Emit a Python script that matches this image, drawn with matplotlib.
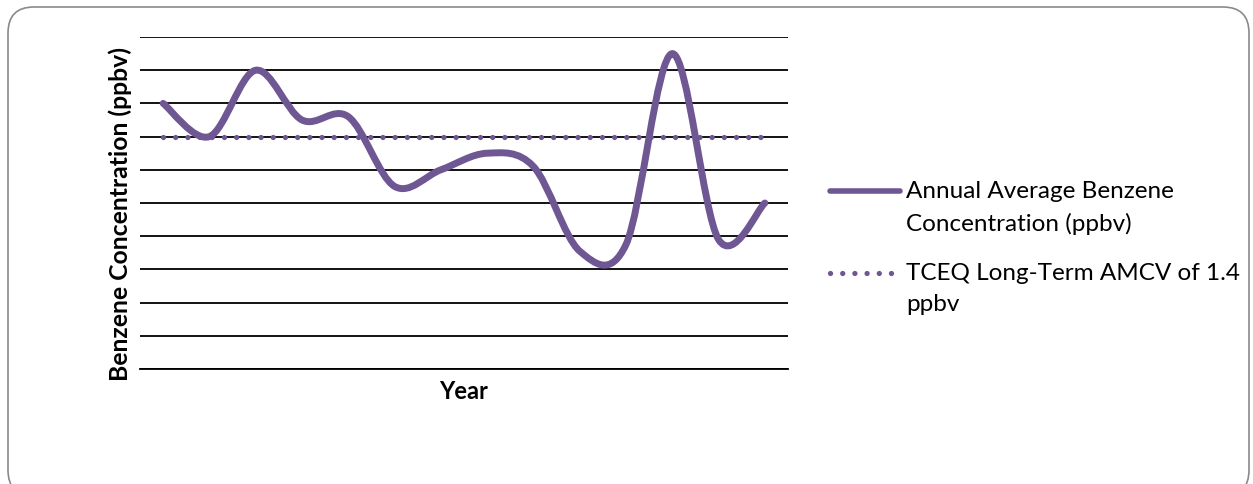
# -*- coding: utf-8 -*-

# %%
import numpy as np
import matplotlib.pyplot as plt
from matplotlib.path import Path
from matplotlib.patches import PathPatch, FancyBboxPatch
from matplotlib.lines import Line2D
from matplotlib.transforms import IdentityTransform


# %% Data ---------------------------------------------------------------------
years = np.arange(14)  # year categories (no labels shown on the axis)
benzene = [1.60, 1.40, 1.80, 1.50, 1.52, 1.10, 1.20, 1.30, 1.22, 0.71, 0.75,
           1.90, 0.78, 1.00]  # annual average benzene, ppbv
amcv = 1.4  # TCEQ long-term AMCV, ppbv

purple = '#6E5793'
plt.rcParams['font.family'] = ['Lato', 'DejaVu Sans']


# %% Smoothed curve (Bezier through the points, like a spreadsheet chart) -----
def smooth_path(x, y):
    p = np.column_stack([x, y]).astype(float)
    ext = np.vstack([p[0], p, p[-1]])
    verts = [p[0]]
    codes = [Path.MOVETO]
    for i in range(len(p) - 1):
        c1 = p[i] + (ext[i + 2] - ext[i]) / 6
        c2 = p[i + 1] - (ext[i + 3] - ext[i + 1]) / 6
        verts += [c1, c2, p[i + 1]]
        codes += [Path.CURVE4] * 3
    return Path(verts, codes)


# %% Figure -------------------------------------------------------------------
fig = plt.figure(figsize=(12.53, 4.84), dpi=100)
ax = fig.add_axes([140/1253, 1 - 369/484, 648/1253, 332/484])

ax.set_xlim(-0.5, 13.5)
ax.set_ylim(0, 2.0)
ax.set_yticks(np.arange(0, 2.01, 0.2))
ax.grid(axis='y', color='black', lw=1.3)
ax.tick_params(left=False, bottom=False, labelleft=False, labelbottom=False)
for side in ['top', 'right', 'left']:
    ax.spines[side].set_visible(False)
ax.spines['bottom'].set_linewidth(1.3)
ax.set_axisbelow(True)

# AMCV reference line
dot = dict(color=purple, lw=3.8, dashes=(0.01, 2.3), dash_capstyle='round')
ax.plot([years[0], years[-1]], [amcv, amcv], zorder=3, **dot)

# annual averages
ax.add_patch(PathPatch(smooth_path(years, benzene), fill=False,
                       edgecolor=purple, lw=5, capstyle='round',
                       joinstyle='round', zorder=4))

ax.set_ylabel('Benzene Concentration (ppbv)', fontsize=17.8,
              fontweight='bold')
ax.yaxis.set_label_coords(-0.013, 0.467)
ax.set_xlabel('Year', fontsize=17, fontweight='bold', labelpad=8)

# legend, drawn by hand so each key sits on the first text line
def px(x, y):
    return x/1253, 1 - y/484

lx0, lx1 = px(830, 0)[0], px(900, 0)[0]
fig.add_artist(Line2D([lx0, lx1], [px(0, 191)[1]]*2, color=purple, lw=4,
                      solid_capstyle='round', transform=fig.transFigure))
fig.add_artist(Line2D([lx0, px(895, 0)[0]], [px(0, 273)[1]]*2,
                      transform=fig.transFigure, **dot))
legend_text = dict(fontsize=17.5, va='top', ha='left', linespacing=1.6,
                   transform=fig.transFigure)
fig.text(*px(906, 181), 'Annual Average Benzene\nConcentration (ppbv)',
         **legend_text)
fig.text(*px(906, 263), 'TCEQ Long-Term AMCV of 1.4\nppbv', **legend_text)

# rounded chart border
fig.add_artist(FancyBboxPatch((8, -12), 1241, 484 - 7 + 12,
                              boxstyle='round,pad=0,rounding_size=26',
                              fill=False, edgecolor='#8a8a8a', lw=1.2,
                              transform=IdentityTransform()))

fig.savefig('out.png', dpi=100)
